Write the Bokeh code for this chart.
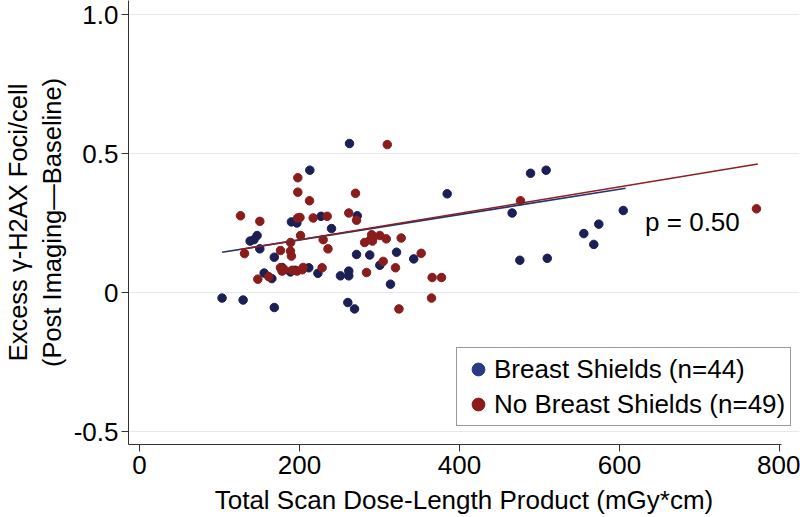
from bokeh.plotting import figure
from bokeh.models import Range1d, FixedTicker, Legend, LegendItem, Label
from bokeh.embed import file_html
from bokeh.resources import INLINE

nan = float("nan")

# Breast Shields (n=44)
shield_dlp = [103.2, 129.5, 168.5, 143.1, 147.0, 150.4, 168.5, 165.5, 189.9, 196.7,
              212.9, 226.9, 240.0, 272.2, 262.5, 188.7, 211.6, 223.0, 251.2, 261.6,
              261.6, 271.3, 287.8, 300.4, 313.7, 321.3, 260.4, 268.8, 342.8, 384.6,
              465.8, 475.4, 488.8, 508.3, 509.7, 555.4, 567.9, 574.1, 604.7, 194.8,
              290.2, 178.2, 155.8, 138.3]
shield_foci = [-0.020, -0.027, -0.054, 0.190, 0.205, 0.157, 0.127, 0.050, 0.254, 0.250,
               0.440, 0.274, 0.230, 0.276, 0.536, 0.074, 0.089, 0.069, 0.060, 0.077,
               0.060, 0.137, 0.135, 0.098, 0.030, 0.145, -0.036, -0.059, 0.121, 0.355,
               0.286, 0.116, 0.429, 0.440, 0.123, 0.212, 0.173, 0.246, 0.295, 0.080,
               0.190, 0.090, 0.070, 0.185]

# No Breast Shields (n=49)
noshield_dlp = [126.3, 131.3, 150.4, 147.9, 161.6, 176.2, 188.7, 189.9, 176.2, 178.2,
                197.1, 190.9, 203.5, 197.9, 197.9, 212.5, 197.7, 200.6, 217.1, 234.6,
                201.3, 229.6, 235.6, 261.6, 271.3, 270.0, 309.7, 228.3, 283.8, 281.4,
                288.7, 290.2, 300.4, 308.4, 327.1, 304.6, 320.0, 352.1, 365.8, 377.5,
                365.0, 324.3, 476.2, 771.2, 188.9, 291.2, 181.1, 204.5, 292.1]
noshield_foci = [0.276, 0.140, 0.256, 0.048, 0.057, 0.151, 0.149, 0.131, 0.089, 0.077,
                 0.077, 0.080, 0.082, 0.413, 0.361, 0.330, 0.268, 0.270, 0.268, 0.274,
                 0.205, 0.190, 0.157, 0.286, 0.260, 0.357, 0.532, 0.089, 0.072, 0.180,
                 0.190, 0.208, 0.205, 0.193, 0.196, 0.112, 0.089, 0.141, 0.054, 0.054,
                 -0.020, -0.059, 0.330, 0.301, 0.180, 0.185, 0.082, 0.090, 0.200]

# Fitted lines (endpoints)
fit_shield_x = [103.2, 607.6]
fit_shield_y = [0.145, 0.375]
fit_noshield_x = [126.3, 772.9]
fit_noshield_y = [0.155, 0.462]

x_ticks = [0, 200, 400, 600, 800]
y_ticks = [-0.5, 0, 0.5, 1.0]
y_tick_labels = ["-0.5", "0", "0.5", "1.0"]

FONT = "Liberation Sans"
BLUE = "#1b1f55"
RED = "#8a1c1c"

p = figure(frame_width=671, frame_height=444,
           x_range=Range1d(-13.75, 825.0), y_range=Range1d(-0.5467, 1.0504),
           output_backend="svg", toolbar_location=None,
           min_border_left=128, min_border_right=1, min_border_top=0, min_border_bottom=73)
p.outline_line_color = None
p.xgrid.visible = False
p.ygrid.grid_line_color = "#e3ebef"
p.ygrid.grid_line_width = 1

p.xaxis.ticker = FixedTicker(ticks=x_ticks)
p.yaxis.ticker = FixedTicker(ticks=y_ticks)
p.yaxis.major_label_overrides = {t: s for t, s in zip(y_ticks, y_tick_labels)}
p.xaxis.bounds = (-13.75, 802.5)

for ax in (p.xaxis[0], p.yaxis[0]):
    ax.axis_line_color = "#333333"
    ax.major_tick_line_color = "#333333"
    ax.major_tick_out = 7
    ax.major_tick_in = 0
    ax.minor_tick_line_color = None
    ax.major_label_text_font = FONT
    ax.major_label_text_font_size = "26px"
    ax.major_label_text_color = "black"
    ax.axis_label_text_font = FONT
    ax.axis_label_text_font_size = "26px"
    ax.axis_label_text_font_style = "normal"
    ax.axis_label_text_color = "black"

p.yaxis.axis_label_text_font_size = "25.5px"
p.xaxis.axis_label = "Total Scan Dose-Length Product (mGy*cm)"
p.yaxis.axis_label = "Excess \u03b3-H2AX Foci/cell\n(Post Imaging\u2014Baseline)"
p.xaxis.major_label_standoff = 4
p.xaxis.axis_label_standoff = 8
p.yaxis.major_label_standoff = 3
p.yaxis.axis_label_standoff = 5

p.scatter(shield_dlp, shield_foci, size=8.5, color=BLUE, line_color=BLUE)
p.scatter(noshield_dlp, noshield_foci, size=8.5, color=RED, line_color=RED)

p.line(fit_shield_x, fit_shield_y, line_color="#26336f", line_width=1.6)
p.line(fit_noshield_x, fit_noshield_y, line_color="#8a2020", line_width=1.6)

# legend keys (not plotted)
lg_blue = p.scatter([nan], [nan], size=15, color="#2a3a86", line_color="#2a3a86")
lg_red = p.scatter([nan], [nan], size=15, color="#8c1c1c", line_color="#8c1c1c")

legend = Legend(items=[LegendItem(label="Breast Shields (n=44)", renderers=[lg_blue]),
                       LegendItem(label="No Breast Shields (n=49)", renderers=[lg_red])],
                location=(328, 18))
legend.label_text_font = FONT
legend.label_text_font_size = "26px"
legend.label_text_color = "black"
legend.glyph_width = 32
legend.glyph_height = 32
legend.label_height = 32
legend.spacing = 3
legend.padding = 5
legend.label_standoff = -2
legend.border_line_color = "#333333"
legend.border_line_width = 1
legend.background_fill_color = "white"
legend.background_fill_alpha = 1
legend.margin = 0
p.add_layout(legend, "center")

p.add_layout(Label(x=632, y=0.2525, text="p = 0.50", text_baseline="middle",
                   text_align="left", text_font=FONT, text_font_size="26px",
                   text_color="black"))

open("out.html", "w").write(file_html(p, INLINE))
